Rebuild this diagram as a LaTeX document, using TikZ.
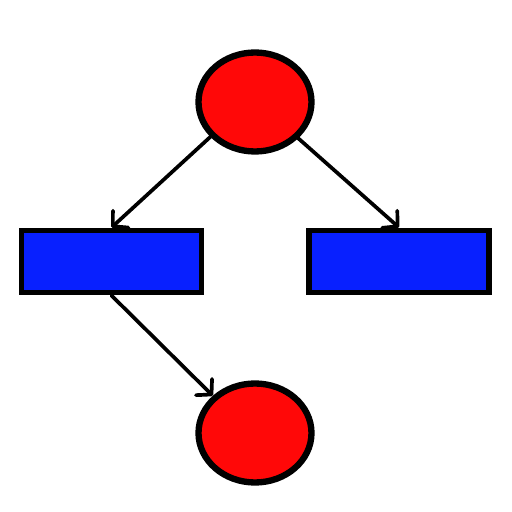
\documentclass[tikz,border=0pt]{standalone}
\usepackage{tikz}
\usetikzlibrary{arrows.meta,positioning,shapes.geometric}
\definecolor{placered}{RGB}{255,8,8}
\definecolor{transblue}{RGB}{8,32,255}

\begin{document}
\begin{tikzpicture}[
  place/.style={draw,ellipse,line width=3.6pt,fill=placered,inner sep=0pt,
                minimum width=2.26cm,minimum height=1.98cm},
  trans/.style={draw,rectangle,line width=3.4pt,fill=transblue,inner sep=0pt,
                minimum width=3.6cm,minimum height=1.24cm},
  arr/.style={-{Straight Barb[length=6pt,width=13pt,round]},line width=2.1pt,line cap=round}
]
\useasboundingbox (0,0) rectangle (10.24,10.24);
\node[place] (p1) at (5.10,8.20) {};
\node[trans] (t1) at (2.23,5.01) {};
\node[trans] (t2) at (7.98,5.01) {};
\node[place] (p2) at (5.10,1.58) {};
\draw[arr] (p1.218) -- (t1.north);
\draw[arr] (p1.-40) -- (t2.north);
\draw[arr] (t1.south) -- (p2.north west);
\end{tikzpicture}
\end{document}
